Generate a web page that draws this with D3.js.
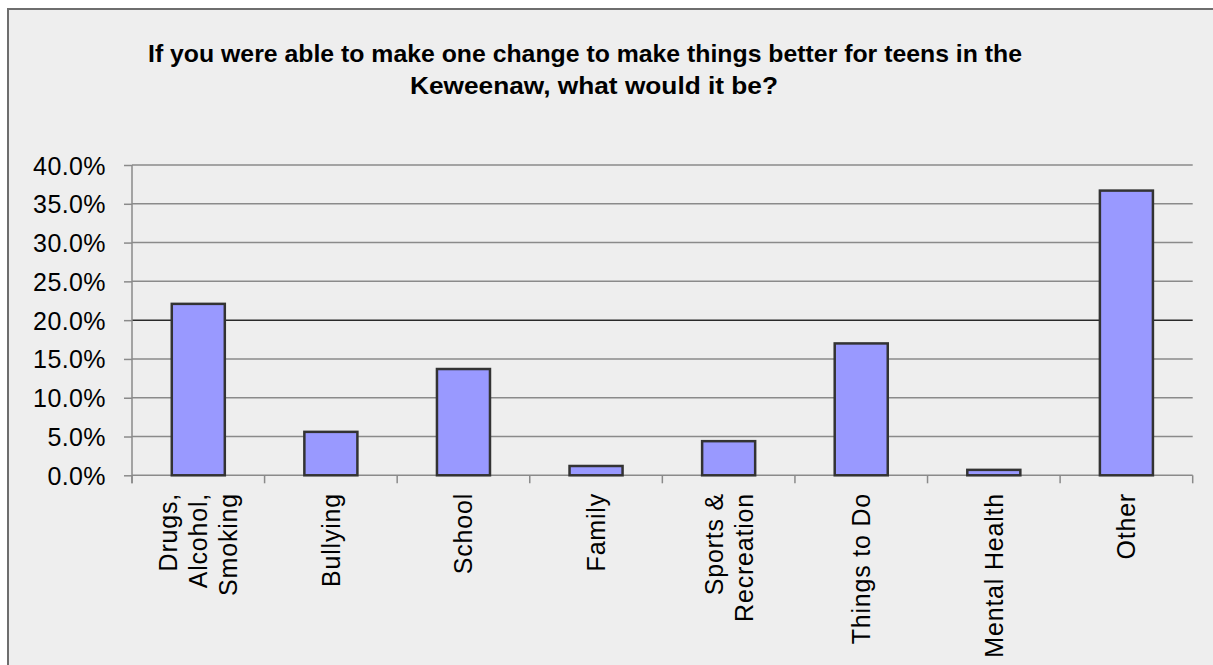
<!DOCTYPE html>
<html>
<head>
<meta charset="utf-8">
<script src="https://cdn.jsdelivr.net/npm/d3@7"></script>
<style>
  html, body { margin: 0; padding: 0; background: #ffffff; }
  svg { display: block; }
</style>
</head>
<body>
<svg id="chart" width="1213" height="665"></svg>
<script>
// ---- data ----
const titleLines = [
  "If you were able to make one change to make things better for teens in the",
  "Keweenaw, what would it be?"
];
const categories = [
  "Drugs,\nAlcohol,\nSmoking",
  "Bullying",
  "School",
  "Family",
  "Sports &\nRecreation",
  "Things to Do",
  "Mental Health",
  "Other"
];
const values = [0.221, 0.056, 0.137, 0.012, 0.044, 0.170, 0.007, 0.367];
const yTicks = [0, 0.05, 0.10, 0.15, 0.20, 0.25, 0.30, 0.35, 0.40];

// ---- layout ----
const svg = d3.select("#chart");
const W = 1213, H = 665;
const plot = { left: 132, right: 1192.7, top: 165, bottom: 475.3 };

// chart frame
svg.append("rect")
  .attr("x", 8).attr("y", 9)
  .attr("width", W + 20).attr("height", H + 20)
  .attr("fill", "#eeeeee")
  .attr("stroke", "#6e6e6e")
  .attr("stroke-width", 2);

const x = d3.scaleBand()
  .domain(categories)
  .range([plot.left, plot.right])
  .paddingInner(0.6)
  .paddingOuter(0.3);

const y = d3.scaleLinear()
  .domain([0, 0.4])
  .range([plot.bottom, plot.top]);

// y axis
const yAxis = d3.axisLeft(y)
  .tickValues(yTicks)
  .tickFormat(d3.format(".1%"))
  .tickSize(8)
  .tickPadding(18);

const gy = svg.append("g")
  .attr("transform", `translate(${plot.left},0)`)
  .call(yAxis);
gy.select(".domain").remove();
gy.selectAll(".tick line").attr("stroke", "#8a8a8a").attr("stroke-width", 1.5);
gy.selectAll(".tick text")
  .attr("font-family", "'Liberation Sans', Arial, sans-serif")
  .attr("font-size", 25)
  .attr("letter-spacing", "0.4px")
  .attr("fill", "#000")
  .attr("dy", "0.36em");

// horizontal gridlines
svg.append("g")
  .selectAll("line")
  .data(yTicks.filter(d => d > 0))
  .join("line")
  .attr("x1", plot.left).attr("x2", plot.right)
  .attr("y1", d => y(d)).attr("y2", d => y(d))
  .attr("stroke", d => Math.abs(d - 0.20) < 1e-9 ? "#2a2a2a" : "#8a8a8a")
  .attr("stroke-width", 1.5);

// x axis
const xAxis = d3.axisBottom(x).tickSize(0).tickFormat("");
const gx = svg.append("g")
  .attr("transform", `translate(0,${plot.bottom})`)
  .call(xAxis);
gx.select(".domain").attr("stroke", "#8a8a8a").attr("stroke-width", 1.5)
  .attr("d", `M${plot.left},0H${plot.right}`);

// category boundary ticks
const boundaries = categories.map((c, i) => plot.left + i * x.step());
boundaries.push(plot.right);
gx.append("g").selectAll("line")
  .data(boundaries)
  .join("line")
  .attr("x1", d => d).attr("x2", d => d)
  .attr("y1", 0).attr("y2", 8)
  .attr("stroke", "#8a8a8a").attr("stroke-width", 1.5);

// y axis vertical line
svg.append("line")
  .attr("x1", plot.left).attr("x2", plot.left)
  .attr("y1", plot.top).attr("y2", plot.bottom + 8)
  .attr("stroke", "#8a8a8a").attr("stroke-width", 1.5);

// bars
svg.append("g")
  .selectAll("rect")
  .data(categories.map((c, i) => ({ c, v: values[i] })))
  .join("rect")
  .attr("x", d => x(d.c))
  .attr("width", x.bandwidth())
  .attr("y", d => y(d.v))
  .attr("height", d => y(0) - y(d.v))
  .attr("fill", "#9999ff")
  .attr("stroke", "#333333")
  .attr("stroke-width", 2.5);

// category labels (rotated)
const lineH = 30;
const labels = svg.append("g")
  .selectAll("text")
  .data(categories)
  .join("text")
  .attr("transform", d => `translate(${x(d) + x.bandwidth() / 2},493) rotate(-90)`)
  .attr("text-anchor", "end")
  .attr("font-family", "'Liberation Sans', Arial, sans-serif")
  .attr("font-size", 25)
  .attr("letter-spacing", "0.8px")
  .attr("fill", "#000");
labels.each(function(d) {
  const lines = d.split("\n");
  const n = lines.length;
  d3.select(this).selectAll("tspan")
    .data(lines)
    .join("tspan")
    .attr("x", 0)
    .attr("y", (l, i) => (i - (n - 1) / 2) * lineH + 9)
    .text(l => l);
});

// title
const title = svg.append("g")
  .attr("font-family", "'Liberation Sans', Arial, sans-serif")
  .attr("font-weight", "bold")
  .attr("font-size", 24)
  .attr("fill", "#000");
const titleSpans = [[148, 1022], [410, 778]];
title.selectAll("text")
  .data(titleLines)
  .join("text")
  .attr("x", (d, i) => (titleSpans[i][0] + titleSpans[i][1]) / 2)
  .attr("y", (d, i) => 62 + i * 32)
  .attr("text-anchor", "middle")
  .attr("textLength", (d, i) => titleSpans[i][1] - titleSpans[i][0])
  .attr("lengthAdjust", "spacingAndGlyphs")
  .text(d => d);
</script>
</body>
</html>
